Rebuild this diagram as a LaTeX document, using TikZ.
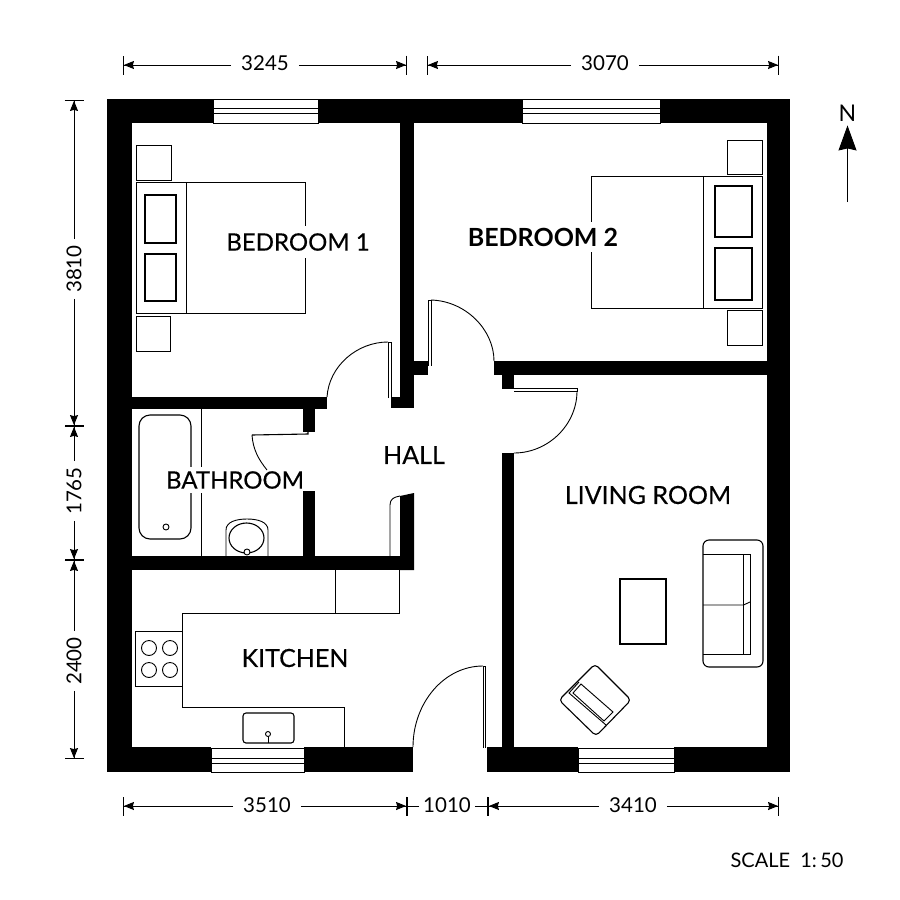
\documentclass[tikz,border=0pt]{standalone}
\usepackage{fontspec}
\setmainfont{Lato}
\newfontfamily\roomfont[FakeBold=0.3]{Lato}
\usetikzlibrary{arrows.meta}

\begin{document}
\begin{tikzpicture}[
        x=1pt, y=-1pt,
        wall/.style={fill=black, draw=none},
        thin line/.style={line width=0.9pt, black},
        heavy line/.style={line width=1.1pt, black},
        glass/.style={fill=white, draw=black, line width=0.9pt},
        room label/.style={fill=white, inner xsep=1pt, inner ysep=5pt,
            font=\roomfont\fontsize{25}{28}\selectfont},
        dim label/.style={inner xsep=10pt, inner ysep=2pt,
            font=\fontsize{20.5}{24}\selectfont},
        dim arrow/.style={line width=0.9pt,
            -{Stealth[length=10pt,width=8pt,inset=1pt,sep=0pt]Bar[width=19pt,line width=0.9pt]}},
        dim tick/.style={line width=0.9pt, -{Bar[width=19pt,line width=0.9pt]}},
    ]
    \useasboundingbox (0,0) rectangle (900,900);

    % bedroom 1 furniture
    \draw[thin line] (136,145) rectangle (171,180);
    \draw[thin line] (136,316) rectangle (170,351);
    \draw[thin line] (136,182) rectangle (305,313);
    \draw[thin line] (186,182) -- (186,313);
    \draw[heavy line] (145,195) rectangle (176,243);
    \draw[heavy line] (145,254) rectangle (176,301);

    % bedroom 2 furniture
    \draw[thin line] (727,140) rectangle (762,174);
    \draw[thin line] (727,310) rectangle (762,345);
    \draw[thin line] (591,176) rectangle (762,308);
    \draw[thin line] (703,176) -- (703,308);
    \draw[heavy line] (715,186) rectangle (752,237);
    \draw[heavy line] (715,248) rectangle (752,300);

    % bathroom
    \draw[heavy line, rounded corners=11pt] (139,415) rectangle (191,539);
    \draw[thin line] (166,527) circle[radius=3];
    \draw[thin line] (201,409) -- (201,557);
    \draw[thin line] (226,557) -- (226,530) .. controls (226,522) and (236,519) .. (247,519)
        .. controls (258,519) and (268,522) .. (268,530) -- (268,557);
    \draw[heavy line] (246.5,538) circle[x radius=17.5, y radius=15];
    \draw[thin line, fill=white] (247,552) circle[radius=3];

    % kitchen
    \draw[thin line] (399,570) -- (399,613) -- (182,613) -- (182,707) -- (344,707) -- (344,747);
    \draw[thin line] (335,570) -- (335,613);
    \draw[thin line] (135,631) rectangle (182,686);
    \draw[thin line] (149,648) circle[radius=7.5];
    \draw[thin line] (170,648) circle[radius=7.5];
    \draw[thin line] (149,670) circle[radius=7.5];
    \draw[thin line] (170,670) circle[radius=7.5];
    \draw[heavy line, rounded corners=3pt] (243,713) rectangle (294,743);
    \draw[thin line] (268,736) -- (268,743);
    \draw[thin line, fill=white] (268,734) circle[radius=2.5];

    % living room
    \draw[heavy line] (620,579) rectangle (666,644);
    \draw[heavy line, rounded corners=6pt] (703,540) rectangle (763,667);
    \draw[thin line] (703,554) -- (750,554) -- (750,654) -- (703,654);
    \draw[thin line] (743.5,554) -- (743.5,654);
    \draw[thin line] (703,605) -- (743.5,605) -- (750,602);
    \draw[heavy line, rounded corners=4pt] (595,664) -- (631,700) -- (596,736) -- (559,700) -- cycle;
    \draw[thin line] (581,684) -- (613,712) -- (604,721) -- (573,693) -- cycle;
    \draw[thin line] (579,682) -- (569,693) -- (606,725);

    % room names
    \node[room label, inner ysep=7.5pt, font=\roomfont\fontsize{24}{28}\selectfont] (bed1) at (298,242) {BEDROOM 1};
    \node[room label, inner ysep=6pt, font=\bfseries\fontsize{25}{28}\selectfont] (bed2) at (543,237) {BEDROOM 2};
    \node[room label, inner ysep=4.5pt, font=\roomfont\fontsize{24}{28}\selectfont] (bath) at (235,480) {BATHROOM};
    \node[room label] (hall) at (414,455) {HALL};
    \node[room label] (living) at (648,495) {LIVING ROOM};
    \node[room label] (kitchen) at (295,658) {KITCHEN};

    % outer walls
    \fill[wall] (107,99) rectangle (213,123);
    \fill[wall] (318,99) rectangle (522,123);
    \fill[wall] (660,99) rectangle (790,123);
    \fill[wall] (107,99) rectangle (132,772);
    \fill[wall] (767,99) rectangle (790,772);
    \fill[wall] (107,747) rectangle (211,772);
    \fill[wall] (304,747) rectangle (413,772);
    \fill[wall] (487,747) rectangle (578,772);
    \fill[wall] (674,747) rectangle (790,772);

    % inner walls
    \fill[wall] (400,123) rectangle (414,408);
    \fill[wall] (391,397) rectangle (414,408);
    \fill[wall] (414,361) rectangle (428,375);
    \fill[wall] (132,397) rectangle (327,409);
    \fill[wall] (303,409) rectangle (315,432);
    \fill[wall] (303,491) rectangle (315,557);
    \fill[wall] (132,556) rectangle (414,570);
    \fill[wall] (400,496) -- (414,493) -- (414,570) -- (400,570) -- cycle;
    \fill[wall] (494,361) rectangle (767,375);
    \fill[wall] (502,375) rectangle (514,389);
    \fill[wall] (502,453) rectangle (514,747);

    % windows
    \draw[glass] (213,99) rectangle (318,123);
    \draw[thin line] (213,108) -- (318,108) (213,113) -- (318,113);
    \draw[glass] (522,99) rectangle (660,123);
    \draw[thin line] (522,108) -- (660,108) (522,113) -- (660,113);
    \draw[glass] (211,748) rectangle (304,772);
    \draw[thin line] (211,758) -- (304,758) (211,763) -- (304,763);
    \draw[glass] (578,748) rectangle (674,772);
    \draw[thin line] (578,758) -- (674,758) (578,763) -- (674,763);

    % doors
    \draw[thin line] (388,398) -- (388,342) -- (391,342) -- (391,398);
    \draw[thin line] (327,397) .. controls (329,366) and (357,342) .. (388,342);
    \draw[thin line] (428,366) -- (428,300) -- (431,300) -- (431,366);
    \draw[thin line] (431,300) .. controls (466,301) and (494,330) .. (494,361);
    \draw[thin line] (514,388) -- (577,388) -- (577,391) -- (514,391);
    \draw[thin line] (577,391) .. controls (577,425) and (548,453) .. (514,453);
    \draw[heavy line] (252,435) -- (308,434) -- (308,432);
    \draw[thin line] (252,435) .. controls (253,450) and (259,460) .. (267,470);
    \draw[thin line] (390,557) -- (390,505) .. controls (390,499) and (394,497) .. (400,496);
    \draw[thin line] (483,748) -- (483,666) -- (485,666) -- (485,748);
    \draw[thin line] (483,666) .. controls (444,666) and (413,703) .. (413,747);

    % top dimensions
    \coordinate (top a) at (123,65);
    \coordinate (top b) at (407,65);
    \coordinate (top c) at (427,65);
    \coordinate (top d) at (779,65);
    \node[dim label] (d3245) at (265,63) {3245};
    \node[dim label] (d3070) at (605,63) {3070};
    \draw[dim arrow] (d3245.west |- top a) -- (top a);
    \draw[dim arrow] (d3245.east |- top a) -- (top b);
    \draw[dim arrow] (d3070.west |- top a) -- (top c);
    \draw[dim arrow] (d3070.east |- top a) -- (top d);

    % bottom dimensions
    \coordinate (bot a) at (123,806);
    \coordinate (bot b) at (407,806);
    \coordinate (bot c) at (488,806);
    \coordinate (bot d) at (779,806);
    \node[dim label] (d3510) at (267,805) {3510};
    \node[dim label, inner xsep=4pt] (d1010) at (447,805) {1010};
    \node[dim label] (d3410) at (633,805) {3410};
    \draw[dim arrow] (d3510.west |- bot a) -- (bot a);
    \draw[dim arrow] (d3510.east |- bot a) -- (bot b);
    \draw[dim tick] (d1010.west |- bot a) -- (bot b);
    \draw[dim tick] (d1010.east |- bot a) -- (bot c);
    \draw[dim arrow] (d3410.west |- bot a) -- (bot c);
    \draw[dim arrow] (d3410.east |- bot a) -- (bot d);

    % left dimensions
    \coordinate (lft a) at (74,100);
    \coordinate (lft b) at (74,426);
    \coordinate (lft c) at (74,560);
    \coordinate (lft d) at (74,759);
    \node[dim label, rotate=90, inner xsep=6pt] (d3810) at (74,269) {3810};
    \node[dim label, rotate=90, inner xsep=6pt] (d1765) at (74,491) {1765};
    \node[dim label, rotate=90, inner xsep=6pt] (d2400) at (74,661) {2400};
    \draw[dim arrow] (d3810) -- (lft a);
    \draw[dim arrow] (d3810) -- (lft b);
    \draw[dim arrow] (d1765) -- (lft b);
    \draw[dim arrow] (d1765) -- (lft c);
    \draw[dim arrow] (d2400) -- (lft c);
    \draw[dim arrow] (d2400) -- (lft d);

    % north
    \node[inner sep=4pt, font=\fontsize{23}{26}\selectfont] (north) at (847.5,113) {N};
    \coordinate (north tail) at (847.5,202);
    \draw[line width=1pt, -{Stealth[length=25pt,width=18pt,inset=2pt]}] (north tail) -- (north);

    % scale
    \node[font=\fontsize{20}{24}\selectfont] (scale) at (787,860) {SCALE\ \ 1:\,50};
\end{tikzpicture}
\end{document}
